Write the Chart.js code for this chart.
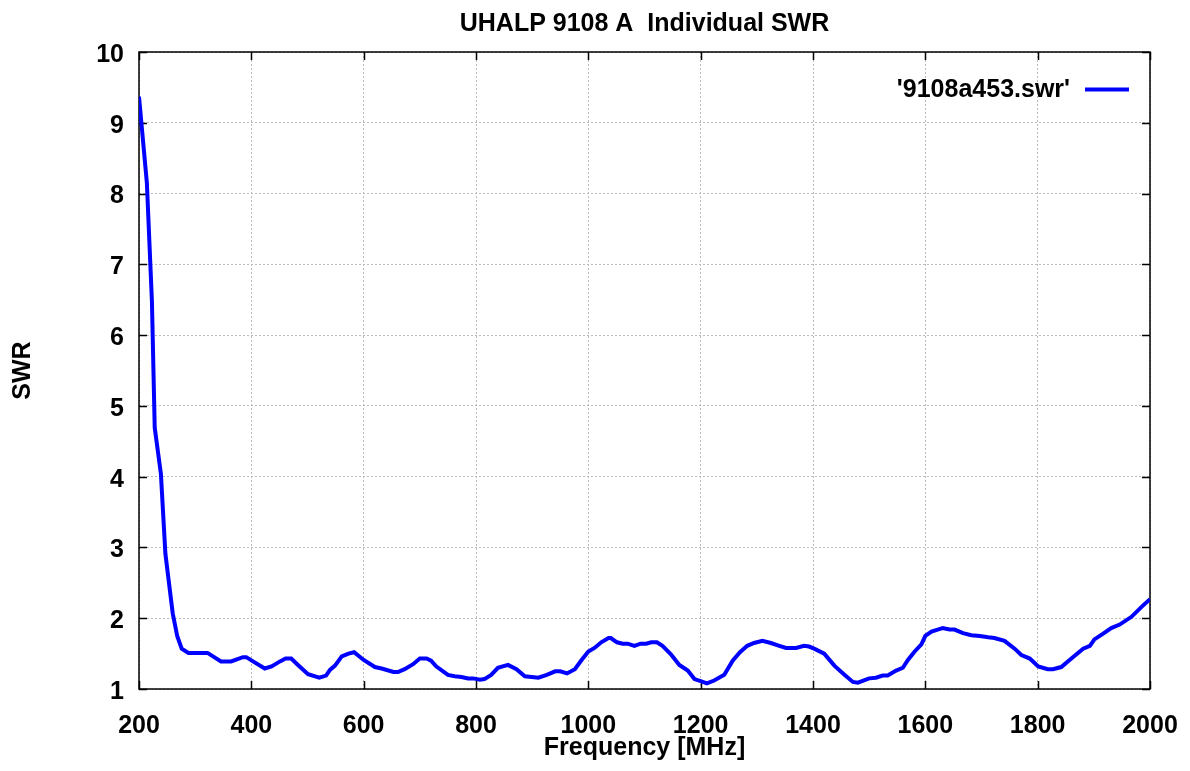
<!DOCTYPE html>
<html>
<head>
<meta charset="utf-8">
<title>UHALP 9108 A Individual SWR</title>
<script src="https://cdn.jsdelivr.net/npm/chart.js@4.4.1/dist/chart.umd.min.js"></script>
<style>
  html, body { margin: 0; padding: 0; background: #fff; }
  #wrap { width: 1190px; height: 771px; }
</style>
</head>
<body>
<div id="wrap"><canvas id="swr"></canvas></div>
<script>
const freqMHz = [
  200, 214, 223, 228, 239, 247, 260, 268, 276, 288, 322, 346, 364, 385, 391,
  403, 424, 436, 451, 461, 471, 483, 501, 521, 533, 540, 549, 561, 573, 583,
  600, 620, 632, 653, 661, 673, 688, 700, 712, 720, 729, 750, 762, 774, 786,
  795, 807, 815, 827, 839, 857, 872, 887, 899, 911, 926, 941, 950, 962, 976,
  988, 1000, 1011, 1023, 1036, 1040, 1051, 1061, 1070, 1082, 1093, 1103, 1112, 1122, 1132,
  1147, 1162, 1177, 1189, 1200, 1211, 1224, 1242, 1257, 1270, 1283, 1295, 1310, 1325, 1340,
  1352, 1370, 1384, 1393, 1402, 1420, 1438, 1456, 1471, 1480, 1500, 1512, 1524, 1533, 1548,
  1560, 1569, 1581, 1593, 1600, 1611, 1622, 1631, 1643, 1652, 1667, 1682, 1697, 1712, 1723,
  1741, 1759, 1771, 1786, 1801, 1818, 1827, 1842, 1860, 1881, 1893, 1901, 1916, 1931, 1946,
  1967, 1985, 2000
];
const swr = [
  9.37, 8.15, 6.48, 4.69, 4.04, 2.91, 2.07, 1.75, 1.57, 1.51, 1.51, 1.39, 1.39, 1.45, 1.45,
  1.39, 1.29, 1.32, 1.39, 1.43, 1.43, 1.34, 1.21, 1.16, 1.19, 1.27, 1.33, 1.46, 1.50, 1.52,
  1.41, 1.31, 1.29, 1.24, 1.24, 1.28, 1.35, 1.43, 1.43, 1.40, 1.32, 1.20, 1.18, 1.17, 1.15,
  1.15, 1.13, 1.14, 1.20, 1.30, 1.34, 1.28, 1.18, 1.17, 1.16, 1.20, 1.25, 1.25, 1.22, 1.28,
  1.41, 1.53, 1.58, 1.66, 1.72, 1.72, 1.66, 1.64, 1.64, 1.61, 1.64, 1.64, 1.66, 1.66, 1.61,
  1.49, 1.34, 1.26, 1.14, 1.11, 1.08, 1.12, 1.20, 1.40, 1.52, 1.61, 1.65, 1.68, 1.65, 1.61,
  1.58, 1.58, 1.61, 1.60, 1.57, 1.50, 1.33, 1.20, 1.10, 1.09, 1.15, 1.16, 1.19, 1.19, 1.26,
  1.30, 1.41, 1.53, 1.63, 1.75, 1.81, 1.84, 1.86, 1.84, 1.84, 1.79, 1.76, 1.75, 1.73, 1.72,
  1.68, 1.57, 1.48, 1.43, 1.32, 1.28, 1.28, 1.31, 1.43, 1.57, 1.61, 1.70, 1.78, 1.86, 1.91,
  2.02, 2.16, 2.27
];
const xTicks = [200, 400, 600, 800, 1000, 1200, 1400, 1600, 1800, 2000];
const yTicks = [1, 2, 3, 4, 5, 6, 7, 8, 9, 10];
const seriesName = "'9108a453.swr'";

const FONT = { family: "'Liberation Sans', Arial, sans-serif", size: 25, weight: 'bold' };

// gnuplot style frame: black border with inward ticks on all sides
const frame = {
    id: 'frame',
    beforeDatasetsDraw(chart) {
        const { ctx, chartArea: a, scales } = chart;
        const tl = 8;
        ctx.save();
        ctx.strokeStyle = '#000';
        ctx.lineWidth = 1.5;
        ctx.beginPath();
        xTicks.forEach(v => {
            const px = Math.round(scales.x.getPixelForValue(v)) + 0.5;
            ctx.moveTo(px, a.bottom); ctx.lineTo(px, a.bottom - tl);
            ctx.moveTo(px, a.top); ctx.lineTo(px, a.top + tl);
        });
        yTicks.forEach(v => {
            const py = Math.round(scales.y.getPixelForValue(v)) + 0.5;
            ctx.moveTo(a.left, py); ctx.lineTo(a.left + tl, py);
            ctx.moveTo(a.right, py); ctx.lineTo(a.right - tl, py);
        });
        ctx.stroke();
        ctx.strokeRect(a.left, a.top, a.right - a.left, a.bottom - a.top);
        ctx.restore();
    },
    afterDraw(chart) {
        const { ctx } = chart;
        ctx.save();
        ctx.font = `bold ${FONT.size}px ${FONT.family}`;
        ctx.fillStyle = '#000';
        ctx.textAlign = 'right';
        ctx.textBaseline = 'middle';
        ctx.fillText(seriesName, 1070, 90);
        ctx.strokeStyle = '#0000ff';
        ctx.lineWidth = 4;
        ctx.beginPath();
        ctx.moveTo(1085, 89.5);
        ctx.lineTo(1129, 89.5);
        ctx.stroke();
        ctx.restore();
    }
};

new Chart(document.getElementById('swr'), {
    type: 'line',
    data: {
        datasets: [{
            label: seriesName,
            data: freqMHz.map((f, i) => ({ x: f, y: swr[i] })),
            borderColor: '#0000ff',
            borderWidth: 4,
            pointRadius: 0,
            tension: 0,
            fill: false
        }]
    },
    options: {
        animation: false,
        responsive: true,
        maintainAspectRatio: false,
        devicePixelRatio: 1,
        layout: { padding: { left: 0, right: 40, top: 0, bottom: 0 } },
        plugins: {
            legend: { display: false },
            tooltip: { enabled: false },
            title: {
                display: true,
                text: 'UHALP 9108 A  Individual SWR',
                color: '#000',
                font: FONT,
                fullSize: false,
                padding: { top: 9, bottom: 13 }
            }
        },
        scales: {
            x: {
                type: 'linear',
                min: 200,
                max: 2000,
                afterBuildTicks: s => { s.ticks = xTicks.map(v => ({ value: v })); },
                afterFit: s => { s.height = 82; s.paddingLeft = 0; s.paddingRight = 0; },
                ticks: { color: '#000', font: FONT, padding: 22, maxRotation: 0, callback: v => String(v) },
                grid: { color: '#bcbcbc', lineWidth: 1, drawTicks: false },
                border: { display: false, dash: [2, 2] },
                title: {
                    display: true,
                    text: 'Frequency [MHz]',
                    color: '#000',
                    font: FONT,
                    padding: { top: 0, bottom: 8 }
                }
            },
            y: {
                min: 1,
                max: 10,
                afterBuildTicks: s => { s.ticks = yTicks.map(v => ({ value: v })); },
                afterFit: s => { s.width = 139; },
                ticks: { color: '#000', font: FONT, padding: 15, labelOffset: 3, callback: v => String(v) },
                grid: { color: '#bcbcbc', lineWidth: 1, drawTicks: false },
                border: { display: false, dash: [2, 2] },
                title: {
                    display: true,
                    text: 'SWR',
                    color: '#000',
                    font: FONT,
                    padding: { top: 8, bottom: 0 }
                }
            }
        }
    },
    plugins: [frame]
});
</script>
</body>
</html>
